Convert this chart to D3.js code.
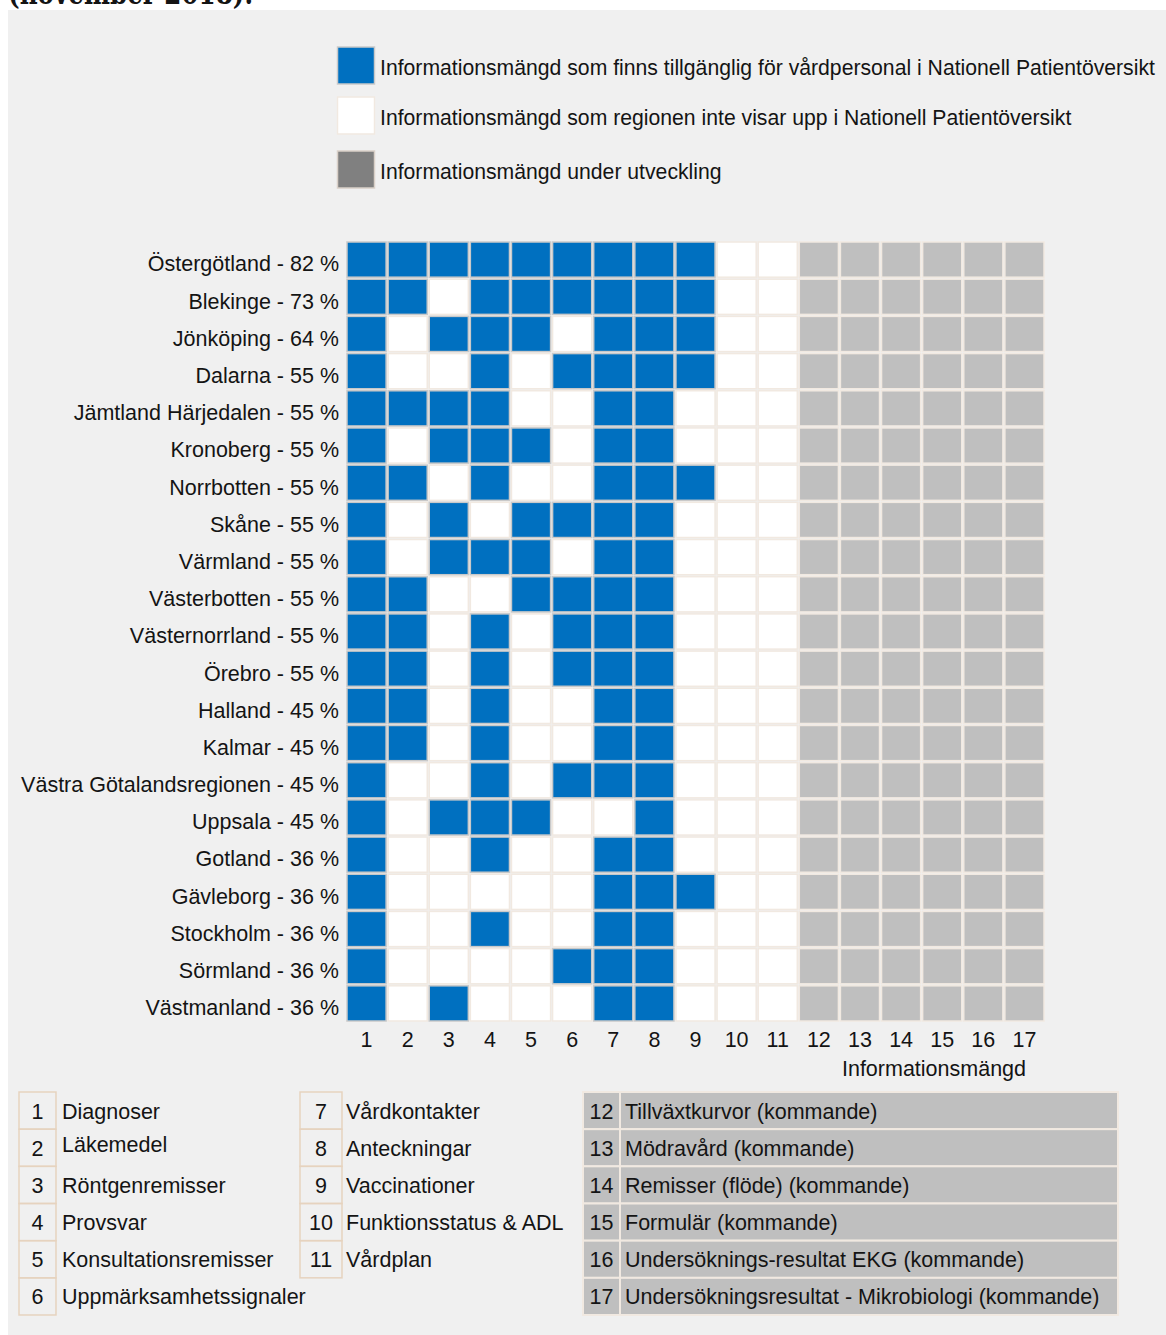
<!DOCTYPE html>
<html><head><meta charset="utf-8">
<script src="https://cdn.jsdelivr.net/npm/d3@7"></script>
<style>
html,body{margin:0;padding:0;background:#fff;}
svg{display:block;}
text{font-family:"Liberation Sans",Arial,sans-serif;fill:#141414;}
</style></head><body>
<svg id="c" width="1166" height="1335"></svg>
<script>
// ---- data ----
const regions = ["Östergötland","Blekinge","Jönköping","Dalarna","Jämtland Härjedalen","Kronoberg","Norrbotten","Skåne","Värmland","Västerbotten","Västernorrland","Örebro","Halland","Kalmar","Västra Götalandsregionen","Uppsala","Gotland","Gävleborg","Stockholm","Sörmland","Västmanland"];
const percents = [82,73,64,55,55,55,55,55,55,55,55,55,45,45,45,45,36,36,36,36,36];
// 1 = available, 0 = not shown (columns 1-11); columns 12-17 are under development
const availability = [
 [1,1,1,1,1,1,1,1,1,0,0],
 [1,1,0,1,1,1,1,1,1,0,0],
 [1,0,1,1,1,0,1,1,1,0,0],
 [1,0,0,1,0,1,1,1,1,0,0],
 [1,1,1,1,0,0,1,1,0,0,0],
 [1,0,1,1,1,0,1,1,0,0,0],
 [1,1,0,1,0,0,1,1,1,0,0],
 [1,0,1,0,1,1,1,1,0,0,0],
 [1,0,1,1,1,0,1,1,0,0,0],
 [1,1,0,0,1,1,1,1,0,0,0],
 [1,1,0,1,0,1,1,1,0,0,0],
 [1,1,0,1,0,1,1,1,0,0,0],
 [1,1,0,1,0,0,1,1,0,0,0],
 [1,1,0,1,0,0,1,1,0,0,0],
 [1,0,0,1,0,1,1,1,0,0,0],
 [1,0,1,1,1,0,0,1,0,0,0],
 [1,0,0,1,0,0,1,1,0,0,0],
 [1,0,0,0,0,0,1,1,1,0,0],
 [1,0,0,1,0,0,1,1,0,0,0],
 [1,0,0,0,0,1,1,1,0,0,0],
 [1,0,1,0,0,0,1,1,0,0,0]
];
const columns = d3.range(1,18);
const devColumns = [12,13,14,15,16,17];
const itemNames = ["Diagnoser","Läkemedel","Röntgenremisser","Provsvar","Konsultationsremisser","Uppmärksamhetssignaler","Vårdkontakter","Anteckningar","Vaccinationer","Funktionsstatus & ADL","Vårdplan","Tillväxtkurvor (kommande)","Mödravård (kommande)","Remisser (flöde) (kommande)","Formulär (kommande)","Undersöknings-resultat EKG (kommande)","Undersökningsresultat - Mikrobiologi (kommande)"];
const legendLabels = ["Informationsmängd som finns tillgänglig för vårdpersonal i Nationell Patientöversikt","Informationsmängd som regionen inte visar upp i Nationell Patientöversikt","Informationsmängd under utveckling"];
const axisTitle = "Informationsmängd";
const titleText = "(november 2018).";

// ---- styles ----
const FS = 21.5, LFS = 21.2;
const BLUE="#0070c0", WHITE="#ffffff", DEV="#bfbfbf", LEGDEV="#808080";
const BEIGE="#f1e9e1", BLUEEDGE="#c9c9c9", CELLEDGE="#e6d3bf";

const svg = d3.select("#c");
svg.append("rect").attr("x",8).attr("y",10).attr("width",1158).attr("height",1325).attr("fill","#f0f0f0");

svg.append("text").attr("x",8).attr("y",4).attr("font-weight","bold")
  .attr("font-size",31).style("font-family","'DejaVu Serif',serif").attr("textLength",245).attr("lengthAdjust","spacingAndGlyphs").text(titleText);

// legend
const legFills=[BLUE,WHITE,LEGDEV], legStroke=["#c9c9c9",BEIGE,"#d9d0c8"], legY=[47,97,151];
legendLabels.forEach((t,i)=>{
  svg.append("rect").attr("x",337.5).attr("y",legY[i]).attr("width",37).attr("height",37)
    .attr("fill",legFills[i]).attr("stroke",legStroke[i]).attr("stroke-width",1.5);
  svg.append("text").attr("x",380).attr("y",legY[i]+28).attr("font-size",LFS).text(t);
});

// grid
const x = d3.scaleBand().domain(columns).range([346,1045]);
const y = d3.scaleBand().domain(regions).range([241,1022]);

const g = svg.append("g");
regions.forEach((r,ri)=>{
  columns.forEach(c=>{
    let fill, stroke;
    if (devColumns.includes(c)) { fill=DEV; stroke=BEIGE; }
    else if (availability[ri][c-1]) { fill=BLUE; stroke=BLUEEDGE; }
    else { fill=WHITE; stroke=BEIGE; }
    g.append("rect").attr("x",x(c)+1).attr("y",y(r)+1)
      .attr("width",x.bandwidth()-2).attr("height",y.bandwidth()-2)
      .attr("fill",fill).attr("stroke",stroke).attr("stroke-width",1.5);
  });
});
// y labels
const yAxis = d3.axisLeft(y).tickSize(0).tickPadding(0).tickFormat((d,i)=>`${d} - ${percents[i]} %`);
const ya = svg.append("g").attr("transform","translate(339,0)").call(yAxis);
ya.select(".domain").remove();
ya.selectAll("text").attr("font-size",FS).attr("font-family","'Liberation Sans',Arial,sans-serif").attr("fill","#141414").attr("dy","0.55em");

const xAxis = d3.axisBottom(x).tickSize(0).tickPadding(0);
const xa = svg.append("g").attr("transform","translate(0,1030)").call(xAxis);
xa.select(".domain").remove();
xa.selectAll("text").attr("font-size",FS).attr("font-family","'Liberation Sans',Arial,sans-serif").attr("fill","#141414").attr("dy","0.8em");

svg.append("text").attr("x",934).attr("y",1076).attr("text-anchor","middle").attr("font-size",FS).text(axisTitle);

// bottom table
const rowY = d3.scaleBand().domain(d3.range(6)).range([1092,1315]);
const groups = [
  {items:d3.range(0,6), nx:19, nw:37, lx:62, shaded:false},
  {items:d3.range(6,11), nx:300, nw:42, lx:346, shaded:false},
  {items:d3.range(11,17), nx:583, nw:37, lx:625, shaded:true, lw:498}
];
groups.forEach(gr=>{
  gr.items.forEach((it,k)=>{
    const yy=rowY(k), h=rowY.bandwidth();
    if (gr.shaded){
      svg.append("rect").attr("x",gr.nx).attr("y",yy).attr("width",gr.nw).attr("height",h)
        .attr("fill",DEV).attr("stroke",BEIGE).attr("stroke-width",2);
      svg.append("rect").attr("x",gr.nx+gr.nw).attr("y",yy).attr("width",gr.lw).attr("height",h)
        .attr("fill",DEV).attr("stroke",BEIGE).attr("stroke-width",2);
    } else {
      svg.append("rect").attr("x",gr.nx).attr("y",yy).attr("width",gr.nw).attr("height",h)
        .attr("fill","none").attr("stroke",CELLEDGE).attr("stroke-width",1.5);
    }
    svg.append("text").attr("x",gr.nx+gr.nw/2).attr("y",yy+h/2+8).attr("text-anchor","middle").attr("font-size",FS).text(it+1);
    svg.append("text").attr("x",gr.lx).attr("y",yy+h/2+8 - (it===1?4:0)).attr("font-size",FS).text(itemNames[it]);
  });
});
</script></body></html>
